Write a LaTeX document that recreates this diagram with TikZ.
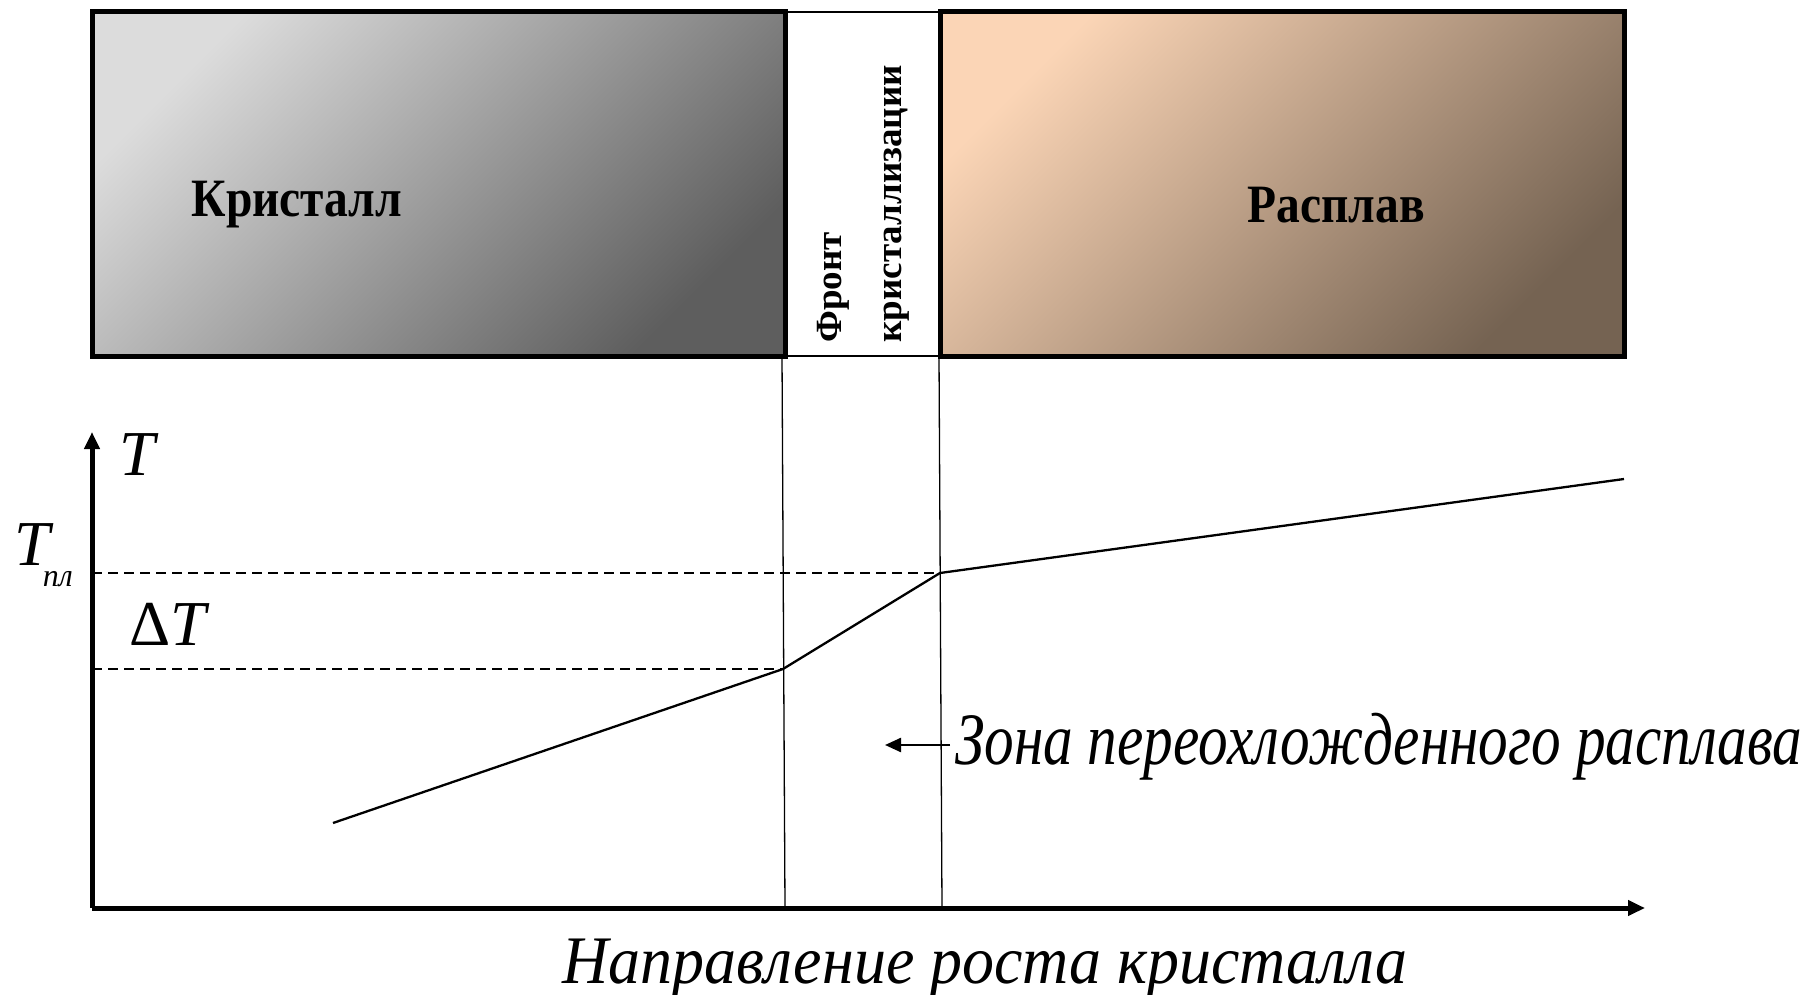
\documentclass[tikz,border=0pt]{standalone}
\usepackage{fontspec}
\setmainfont{Liberation Serif}
\usetikzlibrary{arrows.meta}
\definecolor{grayA}{HTML}{DCDCDC}
\definecolor{grayB}{HTML}{5E5E5E}
\definecolor{meltA}{HTML}{FBD5B6}
\definecolor{meltB}{HTML}{756352}
\begin{document}
\begin{tikzpicture}[x=1pt,y=-1pt,
  boxline/.style={line width=5pt},
  thinline/.style={line width=1.3pt},
  axisline/.style={line width=5pt,-{Triangle[length=17pt,width=15pt]}},
  curveline/.style={line width=2.3pt},
  dashline/.style={line width=2.1pt,dash pattern=on 10pt off 6pt},
  boldlabel/.style={font=\fontsize{54}{58}\selectfont\bfseries},
  rotlabel/.style={font=\fontsize{37}{40}\selectfont\bfseries, rotate=90, anchor=west},
  itlabel/.style={font=\fontsize{64}{68}\selectfont\itshape}]
\useasboundingbox (0,0) rectangle (1802,995);
% boxes
\shade[shading=axis,top color=grayA,bottom color=grayB,shading angle=45] (92,12) rectangle (785,356);
\shade[shading=axis,top color=meltA,bottom color=meltB,shading angle=45] (940,12) rectangle (1624,356);
\draw[thinline] (785,12) -- (940,12);
\draw[thinline] (785,356) -- (940,356);
\draw[boxline] (92,12) rectangle (785,356);
\draw[boxline] (940,12) rectangle (1624,356);
\node[boldlabel] (kr) at (297,205) {\scalebox{0.88}[1]{Кристалл}};
\node[boldlabel] (ra) at (1336,205) {\scalebox{0.88}[1]{Расплав}};
\node[rotlabel] (fr1) at (833,346) {Фронт};
\node[rotlabel] (fr2) at (897,346) {кристаллизации};
% front lines
\coordinate (l1t) at (782,356); \coordinate (l1b) at (785,908);
\coordinate (l2t) at (939,356); \coordinate (l2b) at (942,908);
\draw[thinline] (l1t) -- (l1b);
\draw[thinline] (l2t) -- (l2b);
% axes
\coordinate (o) at (92,908);
\coordinate (ytop) at (92,432);
\coordinate (xend) at (1645,908);
\draw[axisline] (o) -- (ytop);
\draw[axisline] (o) -- (xend);
\node[itlabel] (T) at (137,455) {T};
\node[itlabel, anchor=base west, inner sep=0pt] (Tpl) at (14,565) {T\kern-7pt\raisebox{-21pt}{\fontsize{32}{34}\selectfont пл}};
\node[itlabel] (dT) at (168,624) {\upshape Δ\itshape T};
% dashed
\coordinate (d1) at (92,573); \coordinate (d2) at (92,669);
\coordinate (p1) at (333,823);
\coordinate (p2) at (783,669);
\coordinate (p3) at (940,573);
\coordinate (p4) at (1624,479);
\draw[dashline] (d1) -- (p3);
\draw[dashline] (d2) -- (p2);
\draw[curveline] (p1) -- (p2) -- (p3) -- (p4);
% zone label
\node[font=\fontsize{74}{78}\selectfont\itshape, anchor=base west, inner sep=0pt] (zona) at (955,764) {\scalebox{0.8}[1]{Зона переохложденного расплава}};
\coordinate (zs) at (950,745);
\coordinate (za) at (885,745);
\draw[line width=2.4pt,-{Triangle[length=16pt,width=14pt]}] (zs) -- (za);
\node[font=\fontsize{68}{72}\selectfont\itshape, anchor=base, inner sep=0pt] (dir) at (985,983) {\scalebox{0.94}[1]{Направление роста кристалла}};
\end{tikzpicture}
\end{document}
